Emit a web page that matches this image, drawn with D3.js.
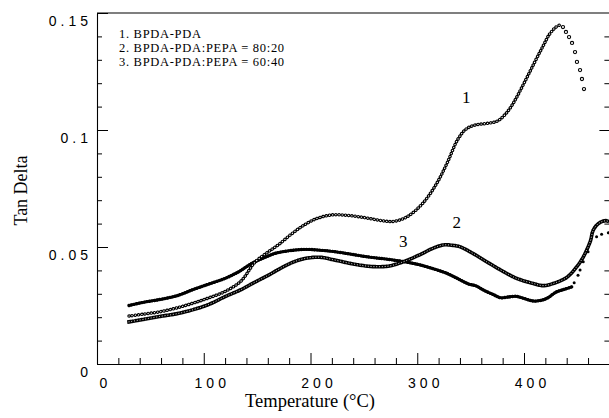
<!DOCTYPE html>
<html>
<head>
<meta charset="utf-8">
<script src="https://cdn.jsdelivr.net/npm/d3@7"></script>
<style>
  html, body { margin: 0; padding: 0; background: #fff; }
  svg { display: block; }
</style>
</head>
<body>
<svg id="chart" width="609" height="418"></svg>
<script>
// Tan delta vs temperature for three BPDA-PDA based films

// 1. BPDA-PDA (open circles)
const temp1 = [30, 45, 60, 75, 90, 105, 120, 135, 148, 160, 170, 182, 192, 205, 220, 235, 250, 265, 277, 290, 305, 318, 328, 338, 346, 355, 365, 375, 383, 390, 400, 410, 418, 424, 430, 433.7];
const tan1  = [0.0205, 0.0214, 0.0224, 0.0240, 0.0260, 0.0283, 0.0310, 0.0355, 0.0435, 0.0478, 0.0510, 0.0555, 0.0588, 0.0620, 0.0637, 0.0635, 0.0626, 0.0614, 0.0609, 0.0628, 0.0686, 0.0770, 0.0859, 0.0960, 0.1005, 0.1022, 0.1028, 0.1038, 0.1070, 0.1115, 0.1200, 0.1290, 0.1360, 0.1410, 0.1440, 0.1449];
// sparse points after the peak
const temp1Tail = [436.5, 439.3, 442.2, 445.0, 447.8, 449.6, 452.5, 454.3, 456.2];
const tan1Tail  = [0.1440, 0.1419, 0.1397, 0.1372, 0.1333, 0.1291, 0.1256, 0.1218, 0.1175];

// 2. BPDA-PDA:PEPA = 80:20 (open squares)
const temp2 = [30, 45, 60, 75, 90, 105, 120, 135, 148, 160, 170, 182, 195, 209, 222, 237, 250, 260, 274, 287, 302, 315, 325, 333, 340, 352, 365, 378, 393, 408, 418, 428, 440, 449.5, 455.6, 462, 465, 470, 476, 480];
const tan2  = [0.0180, 0.0192, 0.0204, 0.0215, 0.0232, 0.0255, 0.0288, 0.0318, 0.0350, 0.0378, 0.0404, 0.0432, 0.0451, 0.0456, 0.0445, 0.0430, 0.0420, 0.0416, 0.0419, 0.0437, 0.0466, 0.0495, 0.0509, 0.0507, 0.0501, 0.0473, 0.0437, 0.0402, 0.0366, 0.0345, 0.0335, 0.0345, 0.0370, 0.0416, 0.0458, 0.0523, 0.0573, 0.0601, 0.0612, 0.0608];

// 3. BPDA-PDA:PEPA = 60:40 (filled dots)
const temp3 = [30, 45, 57, 75, 90, 105, 120, 133, 145, 157, 167, 180, 195, 210, 221, 237, 253, 268, 281, 295, 303, 315, 328, 340, 348, 355, 362, 372, 378, 386, 393, 400, 409, 416, 422, 430, 437, 445];
const tan3  = [0.0250, 0.0265, 0.0274, 0.0292, 0.0318, 0.0342, 0.0366, 0.0395, 0.0430, 0.0455, 0.0473, 0.0484, 0.0490, 0.0486, 0.0481, 0.0470, 0.0458, 0.0450, 0.0442, 0.0431, 0.0423, 0.0407, 0.0387, 0.0360, 0.0342, 0.0334, 0.0316, 0.0295, 0.0283, 0.0287, 0.0289, 0.0280, 0.0269, 0.0272, 0.0282, 0.0307, 0.0318, 0.0330];
// sparse points of the final rise
const temp3Tail = [447, 450.6, 452.5, 455.5, 460, 468, 472.7, 479];
const tan3Tail  = [0.0347, 0.0379, 0.0402, 0.0437, 0.0480, 0.0544, 0.0554, 0.0561];

const xTicks = [0, 100, 200, 300, 400];
const xTickLabels = ["0", "100", "200", "300", "400"];
const yTicks = [0, 0.05, 0.1, 0.15];
const yTickLabels = ["0", "0.05", "0.1", "0.15"];
const legendLines = ["1. BPDA-PDA", "2. BPDA-PDA:PEPA = 80:20", "3. BPDA-PDA:PEPA = 60:40"];
const curveLabels = ["1", "2", "3"];

const svg = d3.select("#chart");
const x = d3.scaleLinear().domain([0, 480]).range([97, 609.4]);
const y = d3.scaleLinear().domain([0, 0.15]).range([364, 13]);

const serif = "'Liberation Serif', 'Times New Roman', serif";
const sans = "'Liberation Sans', Arial, sans-serif";

// ---- axes ----
const yMinor = d3.range(16).filter(i => i % 5 !== 0).map(i => i / 100);
const xMinor = d3.range(1, 24).filter(i => i % 5 !== 0).map(i => i * 20);

function styleAxis(g) {
  g.selectAll("path.domain").attr("stroke", "#000").attr("stroke-width", 1.1);
  g.selectAll(".tick line").attr("stroke", "#000").attr("stroke-width", 1);
}

// left
svg.append("g").attr("transform", `translate(${x(0)},0)`)
  .call(d3.axisLeft(y).tickValues(yMinor).tickSize(-5).tickFormat(""))
  .call(g => g.select(".domain").remove())
  .call(styleAxis);
const yAxisG = svg.append("g").attr("transform", `translate(${x(0)},0)`)
  .call(d3.axisLeft(y).tickValues(yTicks).tickSizeInner(-11).tickSizeOuter(0).tickPadding(5)
    .tickFormat((d, i) => yTickLabels[i]))
  .call(styleAxis);
yAxisG.selectAll(".tick text")
  .attr("dy", null).attr("y", 12)
  .attr("font-family", sans).attr("font-size", 14)
  .attr("letter-spacing", "4px").attr("fill", "#000");

// right
svg.append("g").attr("transform", `translate(${x(480)},0)`)
  .call(d3.axisRight(y).tickValues(yMinor).tickSize(-5).tickFormat(""))
  .call(g => g.select(".domain").remove())
  .call(styleAxis);
svg.append("g").attr("transform", `translate(${x(480)},0)`)
  .call(d3.axisRight(y).tickValues([0.1]).tickSize(-10).tickFormat(""))
  .call(g => g.select(".domain").remove())
  .call(styleAxis);

// bottom
svg.append("g").attr("transform", `translate(0,${y(0)})`)
  .call(d3.axisBottom(x).tickValues(xMinor).tickSize(-6).tickFormat(""))
  .call(g => g.select(".domain").remove())
  .call(styleAxis);
const xAxisG = svg.append("g").attr("transform", `translate(0,${y(0)})`)
  .call(d3.axisBottom(x).tickValues(xTicks).tickSizeInner(-11).tickSizeOuter(0)
    .tickFormat((d, i) => xTickLabels[i]))
  .call(styleAxis);
xAxisG.selectAll(".tick text")
  .attr("y", 24).attr("dy", null).attr("x", 8)
  .attr("font-family", sans).attr("font-size", 14)
  .attr("letter-spacing", "4px").attr("fill", "#000");

// top frame line
svg.append("line")
  .attr("x1", x(0)).attr("x2", x(480)).attr("y1", y(0.15)).attr("y2", y(0.15))
  .attr("stroke", "#000").attr("stroke-width", 1.1);

// ---- axis titles ----
svg.append("text")
  .attr("transform", `translate(27,${(y(0) + y(0.15)) / 2 + 2}) rotate(-90)`)
  .attr("text-anchor", "middle")
  .attr("font-family", serif).attr("font-size", 18).attr("fill", "#000")
  .text("Tan Delta");
svg.append("text")
  .attr("x", 310).attr("y", 407)
  .attr("text-anchor", "middle")
  .attr("font-family", serif).attr("font-size", 18.5).attr("fill", "#000")
  .text("Temperature (°C)");

// ---- legend ----
svg.append("g").selectAll("text").data(legendLines).join("text")
  .attr("x", 119).attr("y", (d, i) => 38 + i * 14)
  .attr("font-family", serif).attr("font-size", 12.5).attr("letter-spacing", "0.7px")
  .attr("fill", "#000")
  .text(d => d);

// ---- series ----
const zip = (a, b) => a.map((t, i) => [t, b[i]]);
const line = d3.line()
  .x(d => x(d[0])).y(d => y(d[1]))
  .curve(d3.curveCatmullRom.alpha(0.5));

const plot = svg.append("g");

// series 3: dense filled markers, reads as a dark beaded line
const s3 = zip(temp3, tan3);
plot.append("path").attr("d", line(s3))
  .attr("fill", "none").attr("stroke", "#000").attr("stroke-width", 2.6);
plot.append("path").attr("d", line(s3))
  .attr("fill", "none").attr("stroke", "#000").attr("stroke-width", 3.4)
  .attr("stroke-linecap", "round").attr("stroke-dasharray", "0.01 2.6");
plot.append("g").selectAll("circle").data(zip(temp3Tail, tan3Tail)).join("circle")
  .attr("cx", d => x(d[0])).attr("cy", d => y(d[1])).attr("r", 1.5)
  .attr("fill", "#000");

// series 2: open squares
const s2 = zip(temp2, tan2);
plot.append("path").attr("d", line(s2))
  .attr("fill", "none").attr("stroke", "#000").attr("stroke-width", 3.6)
  .attr("stroke-linecap", "square").attr("stroke-dasharray", "0.01 2.8");
plot.append("path").attr("d", line(s2))
  .attr("fill", "none").attr("stroke", "#fff").attr("stroke-width", 0.9)
  .attr("stroke-linecap", "square").attr("stroke-dasharray", "0.01 2.8");

// series 1: open circles
const s1 = zip(temp1, tan1);
plot.append("path").attr("d", line(s1))
  .attr("fill", "none").attr("stroke", "#000").attr("stroke-width", 3.5)
  .attr("stroke-linecap", "round").attr("stroke-dasharray", "0.01 3.2");
plot.append("path").attr("d", line(s1))
  .attr("fill", "none").attr("stroke", "#fff").attr("stroke-width", 1.3)
  .attr("stroke-linecap", "round").attr("stroke-dasharray", "0.01 3.2");
plot.append("g").selectAll("circle").data(zip(temp1Tail, tan1Tail)).join("circle")
  .attr("cx", d => x(d[0])).attr("cy", d => y(d[1])).attr("r", 1.6)
  .attr("fill", "#fff").attr("stroke", "#000").attr("stroke-width", 1.1);

// ---- curve numbers ----
const labelPos = [[346, 0.1115], [337, 0.0580], [287, 0.0500]];
svg.append("g").selectAll("text").data(curveLabels).join("text")
  .attr("x", (d, i) => x(labelPos[i][0]))
  .attr("y", (d, i) => y(labelPos[i][1]))
  .attr("text-anchor", "middle")
  .attr("font-family", serif).attr("font-size", 17).attr("fill", "#000")
  .text(d => d);
</script>
</body>
</html>
